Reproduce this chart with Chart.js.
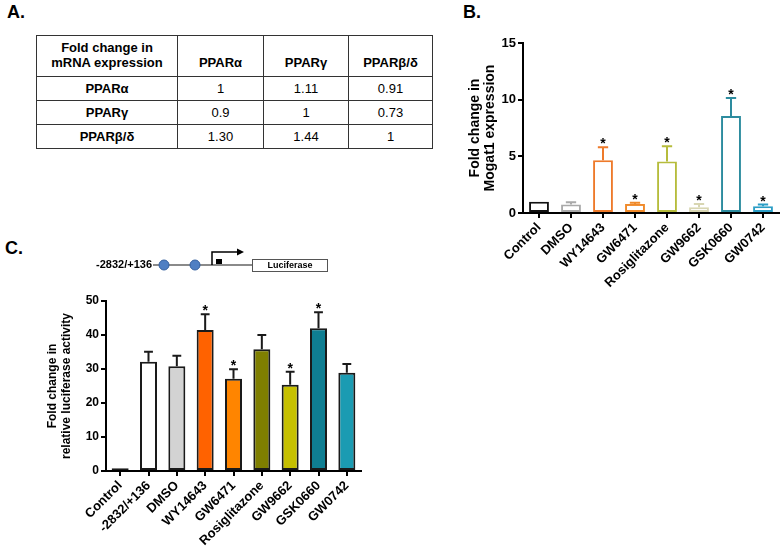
<!DOCTYPE html>
<html>
<head>
<meta charset="utf-8">
<script src="https://cdn.jsdelivr.net/npm/chart.js@4.4.1/dist/chart.umd.min.js"></script>
<style>
  body { margin: 0; background: #fff; width: 781px; height: 547px; position: relative; overflow: hidden;
         font-family: "Liberation Sans", Arial, sans-serif; color: #000; }
  .tag { position: absolute; font-weight: bold; font-size: 18px; }
  #tbl { position: absolute; left: 36px; top: 35px; width: 396px; border-collapse: collapse;
         table-layout: fixed; font-size: 13px; }
  #tbl td { border: 1px solid #333; text-align: center; padding: 0; white-space: pre-line; line-height: 15px; }
  #tbl tr.head td { height: 34px; vertical-align: bottom; padding-bottom: 6px; font-weight: bold; }
  #tbl tr.row td { height: 23px; }
  #tbl td.rh { font-weight: bold; }
  canvas { position: absolute; }
</style>
</head>
<body>
<div class="tag" style="left:7px;top:2px">A.</div>
<div class="tag" style="left:463px;top:2px">B.</div>
<div class="tag" style="left:5px;top:238px">C.</div>

<table id="tbl">
  <colgroup><col style="width:141px"><col style="width:86px"><col style="width:85px"><col style="width:84px"></colgroup>
  <tbody></tbody>
</table>

<canvas id="promoter" width="400" height="45" style="left:0;top:235px"></canvas>
<canvas id="chartB" width="341" height="300" style="left:440px;top:30px"></canvas>
<canvas id="chartC" width="400" height="267" style="left:0;top:280px"></canvas>

<script>
// ---- panel A: table ----
const tableCorner = 'Fold change in\nmRNA expression';
const receptors = ['PPARα', 'PPARγ', 'PPARβ/δ'];
const foldChange = [
  ['1', '1.11', '0.91'],
  ['0.9', '1', '0.73'],
  ['1.30', '1.44', '1']
];

// ---- panel B: Mogat1 expression ----
const bLabels = ['Control', 'DMSO', 'WY14643', 'GW6471', 'Rosiglitazone', 'GW9662', 'GSK0660', 'GW0742'];
const bValues = [1.0, 0.75, 4.65, 0.8, 4.55, 0.5, 8.55, 0.6];
const bUpper  = [null, 0.95, 5.8, 0.9, 5.9, 0.8, 10.15, 0.75];
const bStars  = [false, false, true, true, true, true, true, true];
const bTicks  = [0, 5, 10, 15];

// ---- panel C: luciferase activity ----
const cLabels = ['Control', '-2832/+136', 'DMSO', 'WY14643', 'GW6471', 'Rosiglitazone', 'GW9662', 'GSK0660', 'GW0742'];
const cValues = [0.8, 32.1, 30.8, 41.5, 27.1, 35.8, 25.4, 42.0, 28.9];
const cUpper  = [null, 35.1, 33.9, 46.1, 29.9, 40.0, 29.2, 46.7, 31.5];
const cStars  = [false, false, false, true, true, false, true, true, false];
const cTicks  = [0, 10, 20, 30, 40, 50];

const bColors = ['#111111', '#a9a9a9', '#ee7a2a', '#f08a2a', '#b6bc3c', '#d8d6b2', '#2d8c9f', '#2b9ec6'];
const cFills  = ['#a0a0a0', '#ffffff', '#d3d3d3', '#ff6200', '#ff8500', '#7f7f00', '#c6c000', '#0f7e92', '#1b9bb2'];

const FONT = '"Liberation Sans", Arial, sans-serif';

// build table
(function() {
  const body = document.querySelector('#tbl tbody');
  let tr = document.createElement('tr');
  tr.className = 'head';
  [tableCorner].concat(receptors).forEach(t => {
    const td = document.createElement('td');
    td.textContent = t;
    tr.appendChild(td);
  });
  body.appendChild(tr);
  receptors.forEach((r, i) => {
    tr = document.createElement('tr');
    tr.className = 'row';
    const th = document.createElement('td');
    th.className = 'rh';
    th.textContent = r;
    tr.appendChild(th);
    foldChange[i].forEach(v => {
      const td = document.createElement('td');
      td.textContent = v;
      tr.appendChild(td);
    });
    body.appendChild(tr);
  });
})();

// promoter construct sketch above panel C
(function() {
  const ctx = document.getElementById('promoter').getContext('2d');
  const oy = 235;
  const y = 265 - oy;
  ctx.font = 'bold 11px ' + FONT;
  ctx.textAlign = 'right';
  ctx.textBaseline = 'middle';
  ctx.fillStyle = '#000';
  ctx.fillText('-2832/+136', 152, y);
  ctx.strokeStyle = '#8a8a8a';
  ctx.lineWidth = 2;
  ctx.beginPath(); ctx.moveTo(153, y); ctx.lineTo(253, y); ctx.stroke();
  [164, 195].forEach(cx => {
    ctx.beginPath();
    ctx.arc(cx, y, 5, 0, Math.PI * 2);
    ctx.fillStyle = '#4f7fc3';
    ctx.fill();
    ctx.strokeStyle = '#35609f';
    ctx.lineWidth = 1;
    ctx.stroke();
  });
  ctx.fillStyle = '#000';
  ctx.fillRect(216, 259 - oy, 6, 5);
  ctx.strokeStyle = '#000';
  ctx.lineWidth = 1.5;
  ctx.beginPath();
  ctx.moveTo(212, y); ctx.lineTo(212, 252 - oy); ctx.lineTo(238, 252 - oy);
  ctx.stroke();
  ctx.beginPath();
  ctx.moveTo(244, 252 - oy); ctx.lineTo(237, 248.5 - oy); ctx.lineTo(237, 255.5 - oy);
  ctx.closePath(); ctx.fill();
  ctx.fillStyle = '#fff';
  ctx.fillRect(252, 259 - oy, 75, 12);
  ctx.strokeStyle = '#555';
  ctx.lineWidth = 1;
  ctx.strokeRect(252.5, 259.5 - oy, 75, 12);
  ctx.fillStyle = '#000';
  ctx.font = 'bold 9px ' + FONT;
  ctx.textAlign = 'center';
  ctx.fillText('Luciferase', 290, 265.5 - oy);
})();

// error bars (upper only) and significance stars
const errorBars = {
  id: 'errorBars',
  afterDatasetsDraw(chart, args, opts) {
    const ctx = chart.ctx;
    const yScale = chart.scales.y;
    const bars = chart.getDatasetMeta(0).data;
    const vals = chart.data.datasets[0].data;
    ctx.save();
    bars.forEach((bar, i) => {
      let top = yScale.getPixelForValue(vals[i]);
      if (opts.upper[i] != null) {
        top = yScale.getPixelForValue(opts.upper[i]);
        const half = bar.width * 0.26;
        ctx.strokeStyle = opts.colors[i];
        ctx.lineWidth = opts.lineWidth;
        ctx.beginPath();
        ctx.moveTo(bar.x, yScale.getPixelForValue(vals[i]));
        ctx.lineTo(bar.x, top);
        ctx.moveTo(bar.x - half, top);
        ctx.lineTo(bar.x + half, top);
        ctx.stroke();
      }
      if (opts.stars[i]) {
        ctx.fillStyle = '#000';
        ctx.font = 'bold 14px ' + FONT;
        ctx.textAlign = 'center';
        ctx.textBaseline = 'alphabetic';
        ctx.fillText('*', bar.x, top + 1);
      }
    });
    ctx.restore();
  }
};

// rotated, two-line y axis title (drawn by hand so it is not squeezed)
const yTitle = {
  id: 'yTitle',
  afterDraw(chart, args, opts) {
    const ctx = chart.ctx;
    const area = chart.chartArea;
    const cy = (area.top + area.bottom) / 2;
    ctx.save();
    ctx.fillStyle = '#000';
    ctx.font = 'bold ' + opts.size + 'px ' + FONT;
    ctx.textAlign = 'center';
    ctx.textBaseline = 'middle';
    opts.lines.forEach((line, i) => {
      ctx.save();
      ctx.translate(opts.x[i], cy);
      ctx.rotate(-Math.PI / 2);
      ctx.fillText(line, 0, 0);
      ctx.restore();
    });
    ctx.restore();
  }
};

function axisOptions(ticks, yWidth, xHeight, yFont, xFont) {
  return {
    x: {
      grid: { display: true, drawOnChartArea: false, drawTicks: true, tickLength: 5, color: '#000', lineWidth: 2, offset: false },
      border: { display: true, color: '#000', width: 2 },
      ticks: { color: '#000', font: { family: FONT, weight: 'bold', size: xFont }, minRotation: 45, maxRotation: 45, autoSkip: false, padding: 2 },
      afterFit: s => { s.height = xHeight; }
    },
    y: {
      min: ticks[0],
      max: ticks[ticks.length - 1],
      afterBuildTicks: s => { s.ticks = ticks.map(v => ({ value: v })); },
      grid: { display: true, drawOnChartArea: false, drawTicks: true, tickLength: 5, color: '#000', lineWidth: 2 },
      border: { display: true, color: '#000', width: 2 },
      ticks: { color: '#000', font: { family: FONT, weight: 'bold', size: yFont }, padding: 2 },
      afterFit: s => { s.width = yWidth; }
    }
  };
}

new Chart(document.getElementById('chartB'), {
  type: 'bar',
  data: {
    labels: bLabels,
    datasets: [{
      data: bValues,
      backgroundColor: '#fff',
      borderColor: bColors,
      borderWidth: 2,
      borderSkipped: false,
      barPercentage: 0.62,
      categoryPercentage: 1
    }]
  },
  options: {
    responsive: false,
    animation: false,
    devicePixelRatio: 1,
    layout: { padding: { top: 13, right: 2, left: 0, bottom: 0 } },
    plugins: {
      legend: { display: false },
      tooltip: { enabled: false },
      errorBars: { upper: bUpper, stars: bStars, colors: bColors, lineWidth: 2 },
      yTitle: { lines: ['Fold change in', 'Mogat1 expression'], x: [35, 50], size: 14 }
    },
    scales: axisOptions(bTicks, 83, 117, 13, 13)
  },
  plugins: [errorBars, yTitle]
});

new Chart(document.getElementById('chartC'), {
  type: 'bar',
  data: {
    labels: cLabels,
    datasets: [{
      data: cValues,
      backgroundColor: cFills,
      borderColor: '#1a1a1a',
      borderWidth: 2,
      borderSkipped: false,
      barPercentage: 0.6,
      categoryPercentage: 1
    }]
  },
  options: {
    responsive: false,
    animation: false,
    devicePixelRatio: 1,
    layout: { padding: { top: 21, right: 39, left: 0, bottom: 0 } },
    plugins: {
      legend: { display: false },
      tooltip: { enabled: false },
      errorBars: { upper: cUpper, stars: cStars, colors: cUpper.map(() => '#1a1a1a'), lineWidth: 2 },
      yTitle: { lines: ['Fold change in', 'relative luciferase activity'], x: [53, 67], size: 12 }
    },
    scales: axisOptions(cTicks, 106, 76, 12, 13)
  },
  plugins: [errorBars, yTitle]
});
</script>
</body>
</html>
